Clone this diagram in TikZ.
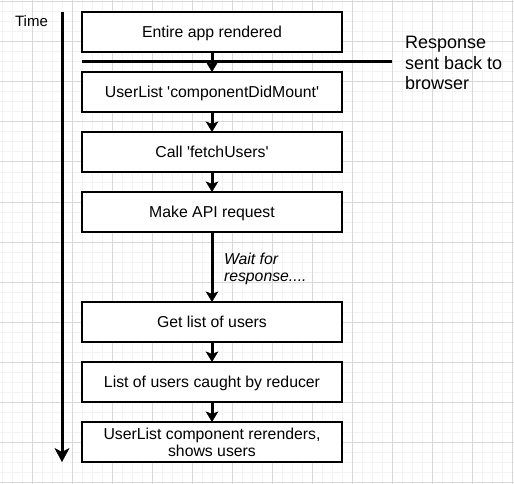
\documentclass[tikz,border=0pt]{standalone}
\usepackage{fontspec}
\setmainfont{Liberation Sans}
\usetikzlibrary{arrows.meta}
\definecolor{gridminor}{HTML}{F3F3F3}
\definecolor{gridmajor}{HTML}{D9D9D9}

\begin{document}
\begin{tikzpicture}[x=1pt,y=-1pt,
  stepbox/.style={draw=black, line width=2pt, fill=white,
    minimum width=260pt, minimum height=40pt, inner sep=0pt, outer sep=0pt,
    font=\fontsize{15.8}{16.7}\selectfont, align=center},
  oneline/.style={text height=12.6pt, text depth=2pt},
  conn/.style={line width=3pt,
    -{Stealth[length=10.5pt,width=12.5pt,inset=2.5pt,line width=0.5pt]}},
  timeline/.style={line width=3pt,
    -{Stealth[length=14pt,width=15pt,inset=4pt,line width=0.5pt]}},
  plain/.style={inner sep=0pt, outer sep=0pt}]

  % page and background grid
  \useasboundingbox (0,0) rectangle (514,484);
  \fill[white] (0,0) rectangle (514,484);
  \foreach \x in {2,12,...,512}
    \draw[gridminor, line width=1pt] (\x,0) -- (\x,484);
  \foreach \y in {2,12,...,482}
    \draw[gridminor, line width=1pt] (0,\y) -- (514,\y);
  \foreach \x in {32,72,...,512}
    \draw[gridmajor, line width=1pt] (\x,0) -- (\x,484);
  \foreach \y in {2,42,...,482}
    \draw[gridmajor, line width=1pt] (0,\y) -- (514,\y);

  % time axis
  \coordinate (t0) at (62,12);
  \coordinate (t1) at (62,462);
  \draw[timeline] (t0) -- (t1);
  \node[plain, anchor=base, font=\fontsize{15}{18}\selectfont] (time) at (31.5,26.7) {Time};

  % steps
  \node[stepbox, oneline] (b1) at (212,32)  {Entire app rendered};
  \node[stepbox, oneline] (b2) at (212,92)  {UserList \textquotesingle componentDidMount\textquotesingle};
  \node[stepbox, oneline] (b3) at (212,152) {Call \textquotesingle fetchUsers\textquotesingle};
  \node[stepbox, oneline] (b4) at (212,212) {Make API request};
  \node[stepbox, oneline] (b5) at (212,322) {Get list of users};
  \node[stepbox, oneline] (b6) at (212,382) {List of users caught by reducer};
  \node[stepbox, yshift=-1.5pt, minimum height=40pt] (b7) at (212,440.5) {UserList component rerenders,\\shows users};

  % response boundary
  \coordinate (h0) at (82,62);
  \coordinate (h1) at (392,62);
  \draw[line width=3pt] (h0) -- (h1);
  \node[plain, anchor=west, align=left, font=\fontsize{18}{20.5}\selectfont] (resp) at (405,63)
    {Response\\sent back to\\browser};

  % connectors
  \draw[conn] (b1) -- (b2);
  \draw[conn] (b2) -- (b3);
  \draw[conn] (b3) -- (b4);
  \draw[conn] (b4) -- node[plain, anchor=west, xshift=12pt, yshift=-2pt, align=left,
      font=\fontsize{15.8}{17.7}\selectfont\itshape] (wait) {Wait for\\response....} (b5);
  \draw[conn] (b5) -- (b6);
  \draw[conn] (b6) -- (b7);
\end{tikzpicture}
\end{document}
